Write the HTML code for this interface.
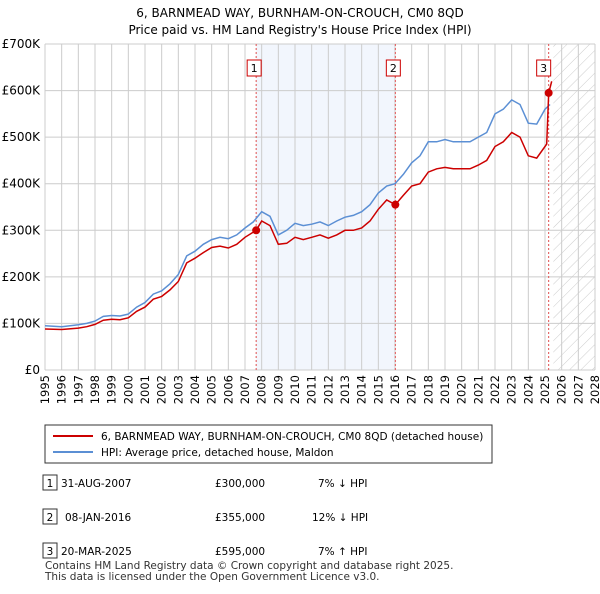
<!DOCTYPE html>
<html><head><meta charset="utf-8"><style>
body{margin:0;background:#fff;font-family:"DejaVu Sans",sans-serif;}
</style></head><body>
<svg width="600" height="590" viewBox="0 0 600 590" xmlns="http://www.w3.org/2000/svg" font-family="DejaVu Sans, sans-serif" id="c">
<text x="300" y="17" text-anchor="middle" font-size="12">6, BARNMEAD WAY, BURNHAM-ON-CROUCH, CM0 8QD</text>
<text x="300" y="34" text-anchor="middle" font-size="12">Price paid vs. HM Land Registry's House Price Index (HPI)</text>
<defs><pattern id="hatch" width="8" height="8" patternUnits="userSpaceOnUse" patternTransform="rotate(45)"><line x1="0" y1="0" x2="0" y2="8" stroke="#ccc" stroke-width="1"/></pattern></defs>
<g id="plot"></g>
<g>
<rect x="45" y="425" width="447" height="38" fill="#fff" stroke="#333"/>
<line x1="53" y1="436" x2="93" y2="436" stroke="#cc0000" stroke-width="2"/>
<text x="101" y="440" font-size="10.5">6, BARNMEAD WAY, BURNHAM-ON-CROUCH, CM0 8QD (detached house)</text>
<line x1="53" y1="452" x2="93" y2="452" stroke="#5b8fd4" stroke-width="2"/>
<text x="101" y="456" font-size="10.5">HPI: Average price, detached house, Maldon</text>
</g>
<g font-size="10.5">
<rect x="43" y="475" width="14" height="15" fill="#fff" stroke="#333"/><text x="50" y="487" text-anchor="middle">1</text>
<text x="61" y="487">31-AUG-2007</text><text x="215" y="487">£300,000</text><text x="318" y="487">7% ↓ HPI</text>
<rect x="43" y="509" width="14" height="15" fill="#fff" stroke="#333"/><text x="50" y="521" text-anchor="middle">2</text>
<text x="65" y="521">08-JAN-2016</text><text x="215" y="521">£355,000</text><text x="312" y="521">12% ↓ HPI</text>
<rect x="43" y="543" width="14" height="15" fill="#fff" stroke="#333"/><text x="50" y="555" text-anchor="middle">3</text>
<text x="61" y="555">20-MAR-2025</text><text x="215" y="555">£595,000</text><text x="318" y="555">7% ↑ HPI</text>
</g>
<text x="45" y="569" font-size="10.5" fill="#333">Contains HM Land Registry data © Crown copyright and database right 2025.</text>
<text x="45" y="580" font-size="10.5" fill="#333">This data is licensed under the Open Government Licence v3.0.</text>
</svg>
<script>
const hpiYears=[1995,1996,1997,1997.5,1998,1998.5,1999,1999.5,2000,2000.5,2001,2001.5,2002,2002.5,2003,2003.5,2004,2004.5,2005,2005.5,2006,2006.5,2007,2007.5,2008,2008.5,2009,2009.5,2010,2010.5,2011,2011.5,2012,2012.5,2013,2013.5,2014,2014.5,2015,2015.5,2016,2016.5,2017,2017.5,2018,2018.5,2019,2019.5,2020,2020.5,2021,2021.5,2022,2022.5,2023,2023.5,2024,2024.5,2025,2025.3];
const hpiValues=[95,93,97,100,105,115,117,116,120,135,145,163,170,185,205,245,255,270,280,285,282,290,305,318,340,330,290,300,315,310,313,318,310,320,328,332,340,355,380,395,400,420,445,460,490,490,495,490,490,490,500,510,550,560,580,570,530,528,560,570];
const ppYears=[1995,1996,1997,1997.5,1998,1998.5,1999,1999.5,2000,2000.5,2001,2001.5,2002,2002.5,2003,2003.5,2004,2004.5,2005,2005.5,2006,2006.5,2007,2007.5,2007.67,2008,2008.5,2009,2009.5,2010,2010.5,2011,2011.5,2012,2012.5,2013,2013.5,2014,2014.5,2015,2015.5,2016.02,2016.5,2017,2017.5,2018,2018.5,2019,2019.5,2020,2020.5,2021,2021.5,2022,2022.5,2023,2023.5,2024,2024.5,2025.1,2025.22,2025.4];
const ppValues=[88,87,90,93,98,107,109,108,112,126,135,152,158,172,190,230,240,252,263,266,262,270,285,296,300,320,310,270,272,285,280,285,290,283,290,300,300,305,320,345,365,355,375,395,400,425,432,435,432,432,432,440,450,480,490,510,500,460,455,485,595,620];
const saleYears=[2007.67,2016.02,2025.22];
const saleValues=[300,355,595];
const saleLabels=["1","2","3"];
const yTicks=[0,100,200,300,400,500,600,700];
const yTickLabels=["£0","£100K","£200K","£300K","£400K","£500K","£600K","£700K"];
const xTicks=[1995,1996,1997,1998,1999,2000,2001,2002,2003,2004,2005,2006,2007,2008,2009,2010,2011,2012,2013,2014,2015,2016,2017,2018,2019,2020,2021,2022,2023,2024,2025,2026,2027,2028];

const X=y=>45+(y-1995)*(550/33), Y=v=>370-v*(326/700);
const NS="http://www.w3.org/2000/svg", g=document.getElementById('plot');
function mk(t,a,p){const e=document.createElementNS(NS,t);for(const k in a)e.setAttribute(k,a[k]);(p||g).appendChild(e);return e;}
let e;
e=mk('rect',{x:X(2007.67),y:44,width:X(2016.02)-X(2007.67),height:326,fill:'#f2f6fd'});


e=mk('rect',{x:X(2025.5),y:44,width:X(2028)-X(2025.5),height:326,fill:'url(#hatch)'});


xTicks.forEach(t=>{e=mk('line',{x1:X(t),x2:X(t),y1:44,y2:370,stroke:'#ccc'});


e=mk('text',{x:0,y:0,'font-size':11.5,'text-anchor':'end',transform:`translate(${X(t)+4},375) rotate(-90)`});e.textContent=t;

});
yTicks.forEach((t,i)=>{e=mk('line',{x1:45,x2:595,y1:Y(t),y2:Y(t),stroke:'#ccc'});


e=mk('text',{x:40,y:Y(t)+4,'font-size':12,'text-anchor':'end'});e.textContent=yTickLabels[i];

});
saleYears.forEach((s,i)=>{e=mk('line',{x1:X(s),x2:X(s),y1:44,y2:370,stroke:'#e05050','stroke-dasharray':'2,2'});

});
function path(xs,vs){return xs.map((x,i)=>(i?'L':'M')+X(x).toFixed(1)+','+Y(vs[i]).toFixed(1)).join('');}
e=mk('path',{d:path(hpiYears,hpiValues),fill:'none',stroke:'#5b8fd4','stroke-width':1.5});


e=mk('path',{d:path(ppYears,ppValues),fill:'none',stroke:'#cc0000','stroke-width':1.5});


saleYears.forEach((s,i)=>{e=mk('circle',{cx:X(s),cy:Y(saleValues[i]),r:4,fill:'#cc0000'});


const bx=X(s)-7-(i==2?3:0);
e=mk('rect',{x:bx-2,y:60,width:14,height:16,fill:'#fff',stroke:'#cc0000'});


e=mk('text',{x:bx+5,y:72,'font-size':11,'text-anchor':'middle'});e.textContent=saleLabels[i];

});
</script>
</body></html>
